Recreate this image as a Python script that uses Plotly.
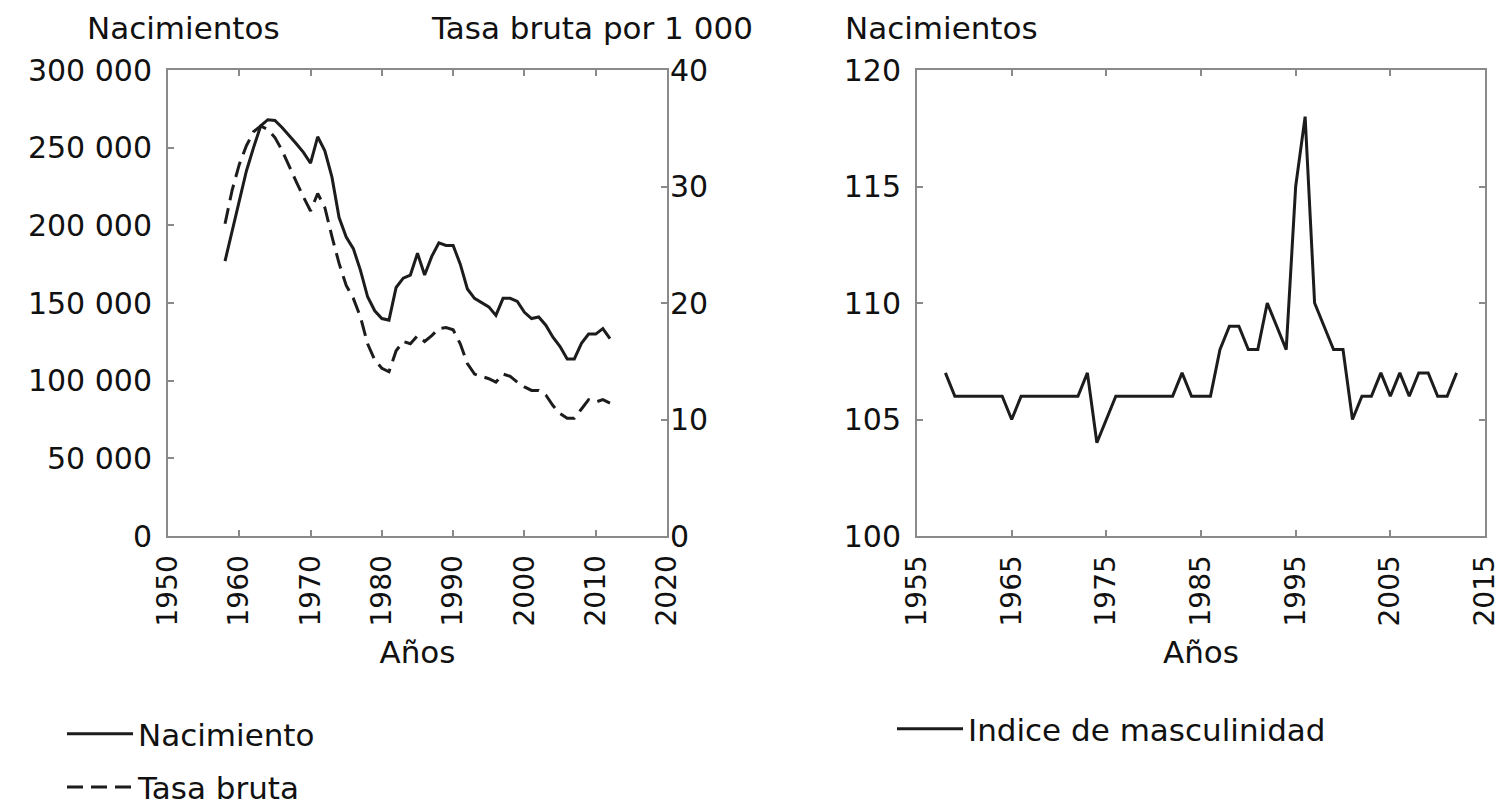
import plotly.graph_objects as go

# ---------------- data ----------------
years = list(range(1958, 2013))

nacimientos = [
    177000, 197000, 216000, 235000, 250000, 264000, 268000, 267500, 263000, 258000,
    252500, 247000, 240000, 257000, 248000, 231000, 205000, 192500, 185000, 171000,
    154000, 145000, 140000, 139000, 160000, 166000, 168000, 182000, 168000, 180000,
    188700, 187000, 187000, 175000, 159000, 153000, 150000, 147500, 142000, 153000,
    153000, 151000, 144000, 140000, 141000, 135700, 128000, 122000, 114000, 114000,
    124000, 130000, 130000, 133500, 127000,
]

tasa_bruta = [
    26.8, 29.7, 31.9, 33.5, 34.7, 35.2, 34.9, 34.2, 33.1, 31.7,
    30.4, 29.1, 27.9, 29.4, 28.2, 25.7, 23.4, 21.5, 20.4, 18.8,
    16.5, 15.1, 14.4, 14.1, 15.9, 16.7, 16.5, 17.2, 16.7, 17.2,
    17.8, 17.9, 17.7, 16.5, 14.8, 13.9, 13.7, 13.5, 13.2, 13.9,
    13.7, 13.2, 12.8, 12.5, 12.5, 12.1, 11.2, 10.5, 10.1, 10.1,
    10.9, 11.7, 11.5, 11.7, 11.4,
]

indice_masculinidad = [
    107, 106, 106, 106, 106, 106, 106, 105, 106, 106,
    106, 106, 106, 106, 106, 107, 104, 105, 106, 106,
    106, 106, 106, 106, 106, 107, 106, 106, 106, 108,
    109, 109, 108, 108, 110, 109, 108, 115, 118, 110,
    109, 108, 108, 105, 106, 106, 107, 106, 107, 106,
    107, 107, 106, 106, 107,
]

left_x_ticks = [1950, 1960, 1970, 1980, 1990, 2000, 2010, 2020]
left_y_ticks = [0, 50000, 100000, 150000, 200000, 250000, 300000]
left_y_labels = ["0", "50 000", "100 000", "150 000", "200 000", "250 000", "300 000"]
rate_ticks = [0, 10, 20, 30, 40]
right_x_ticks = [1955, 1965, 1975, 1985, 1995, 2005, 2015]
right_y_ticks = [100, 105, 110, 115, 120]

# ---------------- style ----------------
FONT = "DejaVu Sans"
INK = "#1c1c1c"
FRAME = "#8a8a8a"
TXT = "#111111"
W, H = 1500, 806
TICK_SIZE = 30
XTICK_SIZE = 28
TEXT_SIZE = 31

def px_x(p):
    return p / W

def px_y(p):
    return 1 - p / H

left_dom = [px_x(168), px_x(667)]
right_dom = [px_x(917), px_x(1485)]
y_dom = [px_y(536), px_y(70)]

fig = go.Figure()
fig.add_trace(go.Scatter(
    x=years, y=nacimientos, mode="lines", name="Nacimiento",
    line=dict(color=INK, width=3), xaxis="x", yaxis="y",
    legend="legend", legendgroup="a",
))
fig.add_trace(go.Scatter(
    x=years, y=tasa_bruta, mode="lines", name="Tasa bruta",
    line=dict(color=INK, width=3, dash="16px,8px"), xaxis="x", yaxis="y2",
    legend="legend", legendgroup="b",
))
fig.add_trace(go.Scatter(
    x=years, y=indice_masculinidad, mode="lines", name="Indice de masculinidad",
    line=dict(color=INK, width=3), xaxis="x2", yaxis="y3",
    legend="legend2",
))

axis_common = dict(
    showgrid=False, zeroline=False, ticks="inside", ticklen=6, tickwidth=2,
    tickcolor=FRAME, showline=True, linecolor=FRAME, linewidth=2,
    automargin=False, ticklabeloverflow="allow",
)

fig.update_layout(
    width=W, height=H,
    margin=dict(l=0, r=0, t=0, b=0, autoexpand=False),
    paper_bgcolor="white", plot_bgcolor="white",
    font=dict(family=FONT, size=TEXT_SIZE, color=TXT),
    xaxis=dict(
        **axis_common, domain=left_dom, anchor="y", range=[1950, 2020],
        tickvals=left_x_ticks, tickangle=-90, mirror="ticks",
        ticklabelstandoff=6,
        tickfont=dict(family=FONT, size=XTICK_SIZE, color=TXT),
        title=dict(text="Años", font=dict(family=FONT, size=TEXT_SIZE, color=TXT), standoff=16),
    ),
    yaxis=dict(
        **axis_common, domain=y_dom, anchor="x", range=[0, 300000],
        tickvals=left_y_ticks, ticktext=left_y_labels, mirror=True,
        ticklabelstandoff=8,
        tickfont=dict(family=FONT, size=TICK_SIZE, color=TXT),
    ),
    yaxis2=dict(
        showgrid=False, zeroline=False, ticks="inside", ticklen=6, tickwidth=2,
        tickcolor=FRAME, showline=False, automargin=False,
        tickfont=dict(family=FONT, size=TICK_SIZE, color=TXT),
        overlaying="y", side="right", anchor="x", range=[0, 40],
        tickvals=rate_ticks, ticklabelstandoff=2,
    ),
    xaxis2=dict(
        **axis_common, domain=right_dom, anchor="y3", range=[1955, 2015],
        tickvals=right_x_ticks, tickangle=-90, mirror="ticks",
        ticklabelstandoff=6,
        tickfont=dict(family=FONT, size=XTICK_SIZE, color=TXT),
        title=dict(text="Años", font=dict(family=FONT, size=TEXT_SIZE, color=TXT), standoff=16),
    ),
    yaxis3=dict(
        **axis_common, domain=y_dom, anchor="x2", range=[100, 120],
        tickvals=right_y_ticks, mirror="ticks", ticklabelstandoff=8,
        tickfont=dict(family=FONT, size=TICK_SIZE, color=TXT),
    ),
    legend=dict(
        x=px_x(62), y=px_y(707), xanchor="left", yanchor="top",
        bgcolor="rgba(0,0,0,0)", font=dict(family=FONT, size=TEXT_SIZE, color=TXT),
        tracegroupgap=10, traceorder="grouped", itemwidth=66,
    ),
    legend2=dict(
        x=px_x(892), y=px_y(702), xanchor="left", yanchor="top",
        bgcolor="rgba(0,0,0,0)", font=dict(family=FONT, size=TEXT_SIZE, color=TXT),
        itemwidth=66,
    ),
    annotations=[
        dict(text="Nacimientos", x=px_x(183), y=px_y(28), xref="paper", yref="paper",
             xanchor="center", yanchor="middle", showarrow=False,
             font=dict(family=FONT, size=TEXT_SIZE, color=TXT)),
        dict(text="Tasa bruta por 1 000", x=px_x(592), y=px_y(28), xref="paper", yref="paper",
             xanchor="center", yanchor="middle", showarrow=False,
             font=dict(family=FONT, size=TEXT_SIZE, color=TXT)),
        dict(text="Nacimientos", x=px_x(843), y=px_y(28), xref="paper", yref="paper",
             xanchor="left", yanchor="middle", showarrow=False,
             font=dict(family=FONT, size=TEXT_SIZE, color=TXT)),
    ],
)

fig.write_html(
    "out.html",
    config={"displayModeBar": False},
    post_script="document.body.style.margin='0';document.body.style.overflow='hidden';",
)
